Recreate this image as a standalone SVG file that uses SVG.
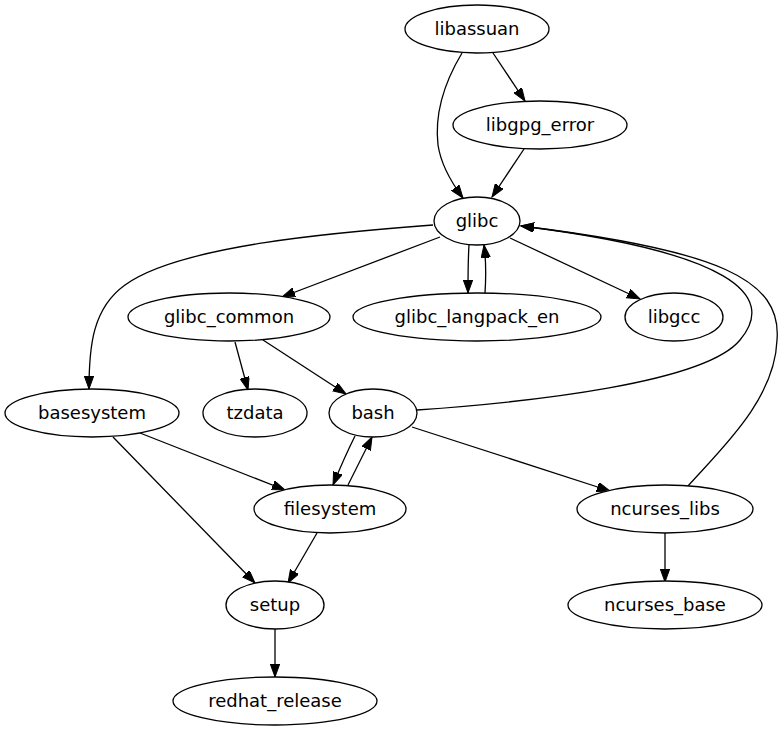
<svg xmlns="http://www.w3.org/2000/svg" width="782" height="731" viewBox="0 0 782 731">
<style>
.n ellipse{fill:#fff;stroke:#000;stroke-width:1.3}
.n text{font-family:"DejaVu Sans","Liberation Sans",sans-serif;font-size:18px;text-anchor:middle;fill:#000}
.e path{fill:none;stroke:#000;stroke-width:1.3;marker-end:url(#ah)}
</style>
<defs>
<marker id="ah" markerUnits="userSpaceOnUse" markerWidth="14" markerHeight="10" refX="13" refY="4.7" orient="auto" viewBox="0 0 14 10">
<path d="M0,0 L13,4.7 L0,9.4 z" fill="#000" stroke="#000" stroke-width="1"/>
</marker>
</defs>
<rect width="782" height="731" fill="#fff"/>
<g id="edges" class="e">
<path d="M493,53 L525,101"/>
<path d="M462,53 C447,78 434,110 438,145 C441,165 451,182 463,198"/>
<path d="M524,149 L492,197"/>
<path d="M433,225 C340,232 180,245 125,285 C93,308 89,345 89,389"/>
<path d="M440,237 L282,297"/>
<path d="M469,245 C468,260 468,278 468,293"/>
<path d="M485,293 C486,278 486,260 484,245"/>
<path d="M510,238 L640,299"/>
<path d="M235,342 L248,390"/>
<path d="M263,340 L346,394"/>
<path d="M417,410 C530,402 705,383 740,340 C778,295 730,252 521,226"/>
<path d="M688,486 C720,450 775,400 777,340 C782,280 720,250 521,226"/>
<path d="M355,436 C347,452 340,468 333,485"/>
<path d="M348,485 C356,469 364,453 372,437"/>
<path d="M412,427 L610,491"/>
<path d="M140,433 L285,490"/>
<path d="M113,437 L255,583"/>
<path d="M317,533 L288,583"/>
<path d="M665,533 L665,582"/>
<path d="M275,629 L275,677"/>
</g>
<g id="libassuan" class="n"><ellipse cx="477" cy="29" rx="72" ry="24"/><text x="477" y="35">libassuan</text></g>
<g id="libgpg_error" class="n"><ellipse cx="540" cy="125" rx="87" ry="24"/><text x="540" y="131">libgpg_error</text></g>
<g id="glibc" class="n"><ellipse cx="477" cy="221" rx="43" ry="24"/><text x="477" y="227">glibc</text></g>
<g id="glibc_common" class="n"><ellipse cx="229" cy="317" rx="101" ry="24"/><text x="229" y="323">glibc_common</text></g>
<g id="glibc_langpack_en" class="n"><ellipse cx="477" cy="317" rx="124" ry="24"/><text x="477" y="323">glibc_langpack_en</text></g>
<g id="libgcc" class="n"><ellipse cx="674" cy="317" rx="49" ry="24"/><text x="674" y="323">libgcc</text></g>
<g id="basesystem" class="n"><ellipse cx="92" cy="413" rx="87" ry="24"/><text x="92" y="419">basesystem</text></g>
<g id="tzdata" class="n"><ellipse cx="255" cy="413" rx="52" ry="24"/><text x="255" y="419">tzdata</text></g>
<g id="bash" class="n"><ellipse cx="373" cy="413" rx="44" ry="24"/><text x="373" y="419">bash</text></g>
<g id="filesystem" class="n"><ellipse cx="330" cy="509" rx="76" ry="24"/><text x="330" y="515">filesystem</text></g>
<g id="ncurses_libs" class="n"><ellipse cx="665" cy="509" rx="88" ry="24"/><text x="665" y="515">ncurses_libs</text></g>
<g id="setup" class="n"><ellipse cx="275" cy="605" rx="49" ry="24"/><text x="275" y="611">setup</text></g>
<g id="ncurses_base" class="n"><ellipse cx="665" cy="605" rx="97" ry="24"/><text x="665" y="611">ncurses_base</text></g>
<g id="redhat_release" class="n"><ellipse cx="275" cy="701" rx="102" ry="24"/><text x="275" y="707">redhat_release</text></g>
</svg>
